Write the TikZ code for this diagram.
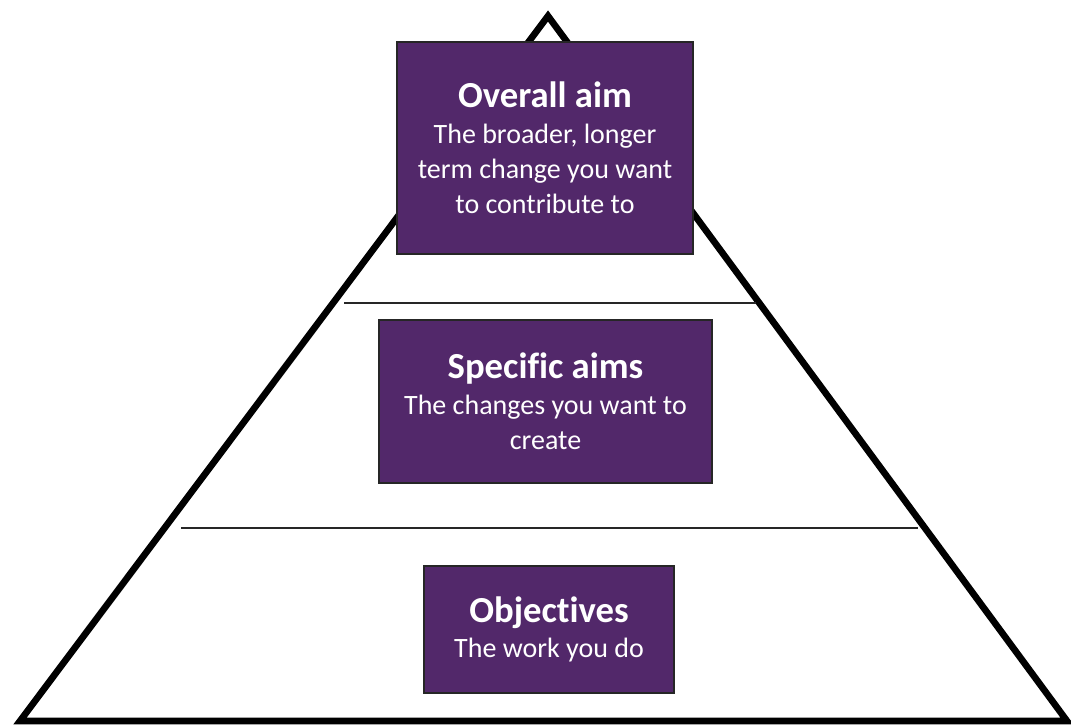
\documentclass[tikz,border=0pt]{standalone}
\usepackage{fontspec}
\setmainfont{Carlito}[Ligatures=NoCommon]
\definecolor{aimpurple}{RGB}{82,40,106}
\tikzset{
  levelbox/.style={draw=black!85, line width=0.8pt, fill=aimpurple, text=white,
    align=center, font=\fontsize{21}{26.5}\selectfont, inner sep=0pt},
  levelline/.style={line width=1pt, black!85}
}
\newcommand{\lvltitle}[1]{\textbf{\fontsize{27.5}{31}\selectfont #1}}
\begin{document}
\begin{tikzpicture}[x=0.75pt, y=-0.75pt]
	\useasboundingbox (0,0) rectangle (1071,728);
	% pyramid
	\draw[line width=5pt, line join=miter] (20,721)--(548,16)--(1067,721)--cycle;
	\draw[levelline] (344,303)--(756,303);
	\draw[levelline] (181,528)--(918,528);
	% levels
	\node[levelbox, minimum width=296*0.75pt, minimum height=212*0.75pt] (overall) at (545,148)
		{\lvltitle{Overall aim}\\The broader, longer\\term change you want\\to contribute to};
	\node[levelbox, minimum width=333*0.75pt, minimum height=163*0.75pt] (specific) at (545.5,401.5)
		{\lvltitle{Specific aims}\\The changes you want to\\create};
	\node[levelbox, minimum width=250*0.75pt, minimum height=127*0.75pt] (objectives) at (549,629.5)
		{\lvltitle{Objectives}\\The work you do};
\end{tikzpicture}
\end{document}
